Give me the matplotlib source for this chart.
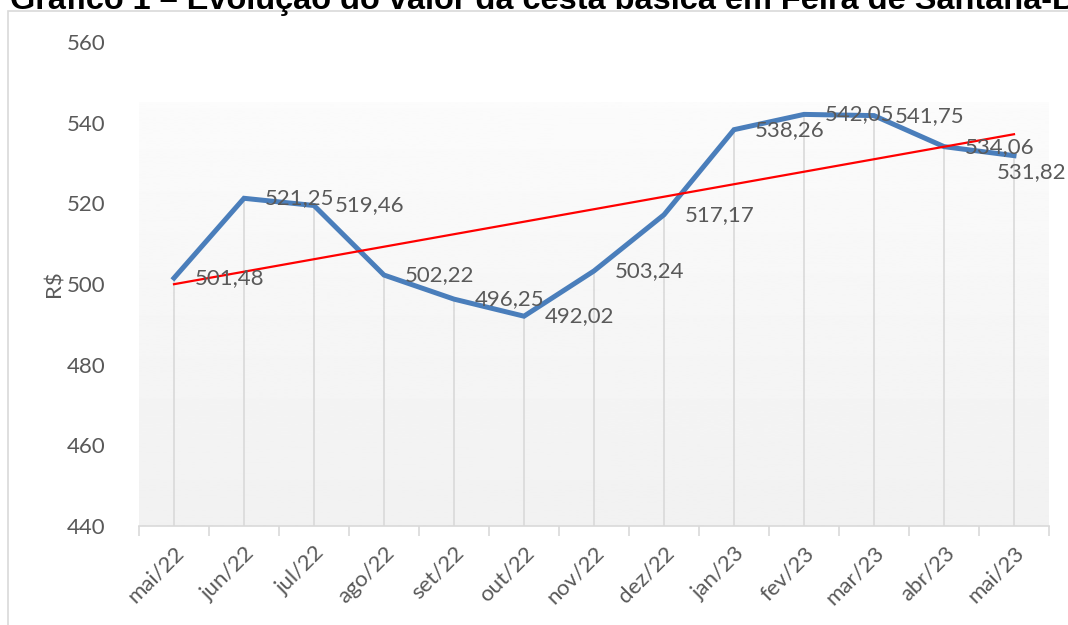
import numpy as np
import matplotlib
matplotlib.use("Agg")
import matplotlib.pyplot as plt
from matplotlib.patches import Rectangle

months = ["mai/22", "jun/22", "jul/22", "ago/22", "set/22", "out/22", "nov/22",
          "dez/22", "jan/23", "fev/23", "mar/23", "abr/23", "mai/23"]
values = [501.48, 521.25, 519.46, 502.22, 496.25, 492.02, 503.24,
          517.17, 538.26, 542.05, 541.75, 534.06, 531.82]
title = "Gráfico 1 – Evolução do valor da cesta básica em Feira de Santana-BA"

TEXT = "#595959"
GRID = "#d9d9d9"


def fmt(v):
    return f"{v:.2f}".replace(".", ",")


def main():
    plt.rcParams["font.family"] = ["Lato", "DejaVu Sans"]
    fig = plt.figure(figsize=(10.68, 6.25), dpi=100)
    ax = fig.add_axes([139 / 1068, 1 - 526 / 625, 910 / 1068, 484 / 625])

    x = np.arange(len(values))
    ymin, ymax = 440, 560

    # soft gradient behind the plot (Excel style)
    grad = np.linspace(0.985, 0.945, 256).reshape(-1, 1)
    ax.imshow(grad, cmap="gray", vmin=0, vmax=1, aspect="auto",
              extent=(-0.5, len(values) - 0.5, ymin, 545), origin="upper", zorder=0)

    ax.vlines(x, ymin, values, color=GRID, linewidth=1.2, zorder=1)
    ax.plot(x, values, color="#4a7ebb", linewidth=3.6, solid_joinstyle="miter", zorder=3)

    # linear trend line
    slope, intercept = np.polyfit(x, values, 1)
    ax.plot(x, slope * x + intercept, color="red", linewidth=1.6, zorder=4)

    for i, v in enumerate(values):
        if i == len(values) - 1:
            off = (-17, -16)
        else:
            off = (21, 0)
        ax.annotate(fmt(v), (i, v), xytext=off, textcoords="offset pixels",
                    ha="left", va="center", fontsize=16, color=TEXT, zorder=5)

    ax.set_xlim(-0.5, len(values) - 0.5)
    ax.set_ylim(ymin, ymax)
    ax.set_yticks(np.arange(440, 561, 20))
    ax.set_xticks(x)
    ax.set_xticklabels(months, rotation=45, ha="right", rotation_mode="anchor")
    ax.set_xticks(np.arange(-0.5, len(values), 1), minor=True)
    ax.tick_params(axis="x", which="major", length=0, pad=12, labelsize=16, labelcolor=TEXT)
    ax.tick_params(axis="x", which="minor", length=7, width=1.2, color=GRID)
    ax.tick_params(axis="y", length=0, pad=24, labelsize=16, labelcolor=TEXT)
    for side in ["top", "right", "left"]:
        ax.spines[side].set_visible(False)
    ax.spines["bottom"].set_color(GRID)
    ax.spines["bottom"].set_linewidth(1.2)
    ax.set_facecolor("none")
    ax.set_ylabel("R$", fontsize=16, color=TEXT, labelpad=2)

    # chart border, cut off at the right and bottom like the source
    fig.patches.append(Rectangle((8 / 1068, -0.2), 1.5, 1.2 - 11 / 625,
                                 transform=fig.transFigure, fill=False,
                                 edgecolor=GRID, linewidth=1.2))
    fig.text(10 / 1068, 1 - 9 / 625, title, fontsize=23.4, fontweight="bold",
             family="Liberation Sans", ha="left", va="baseline", color="black")

    fig.savefig("out.png", dpi=100)


if __name__ == "__main__":
    main()
